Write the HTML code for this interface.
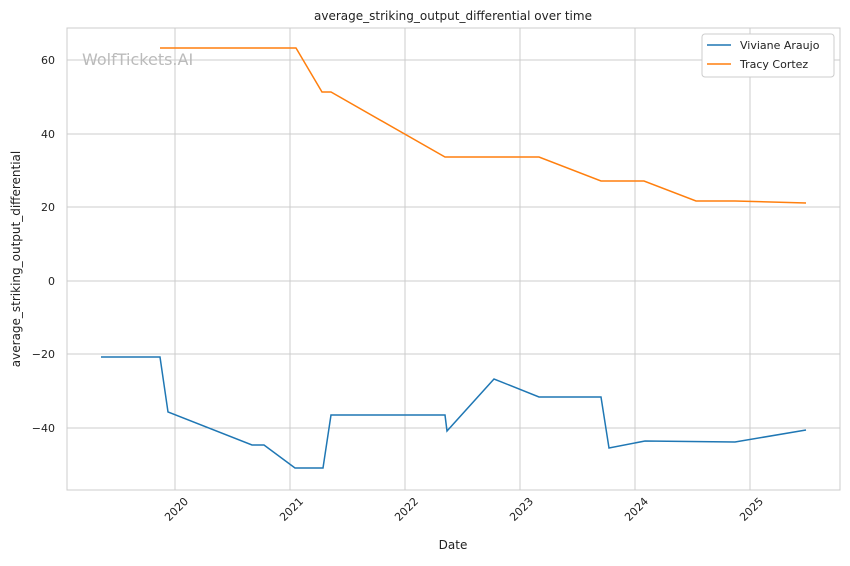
<!DOCTYPE html>
<html><head><meta charset="utf-8"><style>
body{margin:0;background:#fff;}
svg text{font-family:"DejaVu Sans","Liberation Sans",sans-serif;fill:#222;}
</style></head><body>
<svg width="850" height="561" xmlns="http://www.w3.org/2000/svg">
<rect width="850" height="561" fill="#fff"/>
<g stroke="#cccccc" stroke-width="1">
<line x1="175" y1="28" x2="175" y2="490"/>
<line x1="290" y1="28" x2="290" y2="490"/>
<line x1="405" y1="28" x2="405" y2="490"/>
<line x1="520" y1="28" x2="520" y2="490"/>
<line x1="635" y1="28" x2="635" y2="490"/>
<line x1="750" y1="28" x2="750" y2="490"/>
<line x1="67" y1="60" x2="840" y2="60"/>
<line x1="67" y1="134" x2="840" y2="134"/>
<line x1="67" y1="207" x2="840" y2="207"/>
<line x1="67" y1="281" x2="840" y2="281"/>
<line x1="67" y1="354" x2="840" y2="354"/>
<line x1="67" y1="428" x2="840" y2="428"/>
</g>
<rect x="67" y="28" width="773" height="462" fill="none" stroke="#cccccc" stroke-width="1"/>
<text x="82" y="65" font-size="16" style="fill:#bbb">WolfTickets.AI</text>
<polyline fill="none" stroke="#1f77b4" stroke-width="1.5" points="101,357 160,357 168,412 252,445 264,445 295,468 323,468 331,415 445,415 447,431 494,379 539,397 601,397 609,448 645,441 735,442 806,430"/>
<polyline fill="none" stroke="#ff7f0e" stroke-width="1.5" points="160,48 296,48 322,92 331,92 445,157 539,157 601,181 644,181 696,201 735,201 806,203"/>
<g font-size="11" text-anchor="end">
<text x="55" y="64">60</text>
<text x="55" y="138">40</text>
<text x="55" y="211">20</text>
<text x="55" y="285">0</text>
<text x="55" y="358">−20</text>
<text x="55" y="432">−40</text>
</g>
<g font-size="11" text-anchor="end">
<text transform="translate(189,502) rotate(-45)">2020</text>
<text transform="translate(304,502) rotate(-45)">2021</text>
<text transform="translate(419,502) rotate(-45)">2022</text>
<text transform="translate(534,502) rotate(-45)">2023</text>
<text transform="translate(649,502) rotate(-45)">2024</text>
<text transform="translate(764,502) rotate(-45)">2025</text>
</g>
<text x="453" y="549" font-size="12" text-anchor="middle">Date</text>
<text transform="translate(20,259) rotate(-90)" font-size="12" text-anchor="middle">average_striking_output_differential</text>
<text x="453" y="20" font-size="12" text-anchor="middle">average_striking_output_differential over time</text>
<rect x="702" y="34" width="132" height="43" rx="3" fill="#fff" stroke="#ccc"/>
<line x1="707" y1="45" x2="731" y2="45" stroke="#1f77b4" stroke-width="1.5"/>
<text x="740" y="49" font-size="11">Viviane Araujo</text>
<line x1="707" y1="64" x2="731" y2="64" stroke="#ff7f0e" stroke-width="1.5"/>
<text x="740" y="68" font-size="11">Tracy Cortez</text>
</svg>
</body></html>
